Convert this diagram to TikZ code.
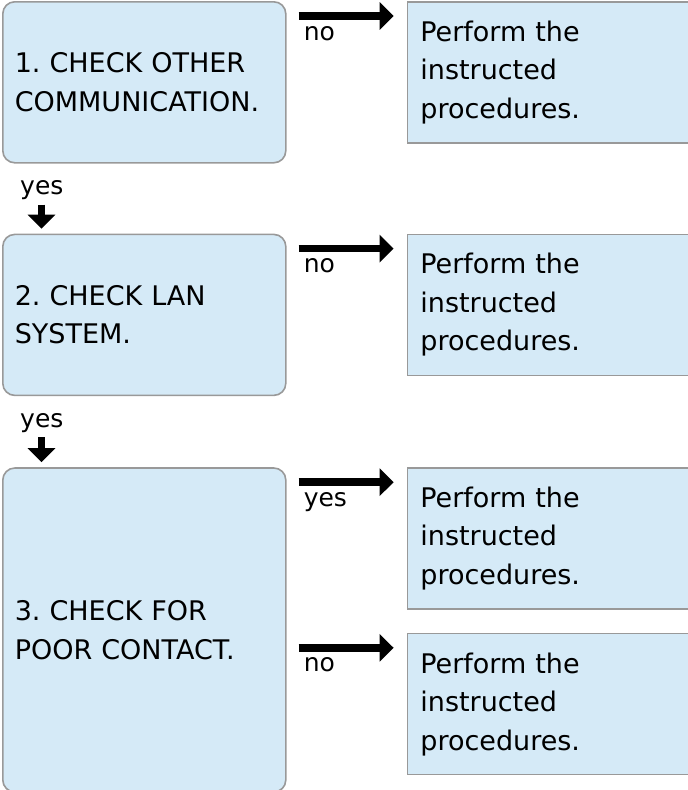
\documentclass[tikz,border=0pt]{standalone}
\usepackage{fontspec}
\usepackage{tikz}
\usetikzlibrary{positioning, calc, arrows.meta}

\newfontfamily\dejavu{DejaVu Sans}
\newcommand\chkfont{\dejavu\frenchspacing\fontsize{27}{38.5}\selectfont}
\newcommand\ansfont{\dejavu\fontsize{25}{30}\selectfont}
\definecolor{boxfill}{HTML}{D5EAF7}
\definecolor{boxline}{HTML}{999999}

\begin{document}
\begin{tikzpicture}[x=1pt, y=-1pt, node distance=70pt and 120pt,
		check/.style={draw=boxline, fill=boxfill, line width=1.6pt, rounded corners=12pt,
			text width=259pt, inner xsep=12pt, align=left, font=\chkfont, minimum height=161pt},
		todo/.style={draw=boxline, fill=boxfill, line width=1.6pt,
			text width=265pt, inner xsep=13pt, align=left, font=\chkfont, minimum height=141pt},
		flow/.style={line width=7.5pt, -{Triangle[length=14pt,width=27pt]}},
		answer/.style={font=\ansfont, inner sep=0pt, anchor=base west}]
	\useasboundingbox (0,0) rectangle (688,790);
		% checks on the left
		\node[check, anchor=north west] (c1) at (2,1) {1. CHECK OTHER\\COMMUNICATION.};
		\node[check, below=70pt of c1] (c2) {2. CHECK LAN\\SYSTEM.};
		\node[check, below=71pt of c2, minimum height=324pt] (c3) {3. CHECK FOR\\POOR CONTACT.};
		% procedures on the right
		\node[todo, right=120pt of c1.north east, anchor=north west] (r1) {Perform the\\instructed\\procedures.};
		\node[todo, right=120pt of c2.north east, anchor=north west] (r2) {Perform the\\instructed\\procedures.};
		\node[todo, right=120pt of c3.north east, anchor=north west] (r3) {Perform the\\instructed\\procedures.};
		\node[todo, below=23pt of r3] (r4) {Perform the\\instructed\\procedures.};
		% yes: go on to the next check
		\foreach \from/\to in {c1/c2,c2/c3} {
			\node[answer] (yes-\to) at ($(\from.south west)+(18,31)$) {yes};
			\draw[flow] ($(\from.south west)+(39.5,41)$) -- ($(\to.north west)+(39.5,-5)$);
		}
		% sideways to the procedures
		\foreach \from/\to/\ans in {c1/r1/no,c2/r2/no,c3/r3/yes,c3/r4/no} {
			\draw[flow] ($(\from.east |- \to.north)+(12,15)$) -- ($(\to.north west)+(-13,15)$);
			\node[answer] (ans-\to) at ($(\from.east |- \to.north)+(17,39)$) {\ans};
		}
	\end{tikzpicture}
\end{document}
